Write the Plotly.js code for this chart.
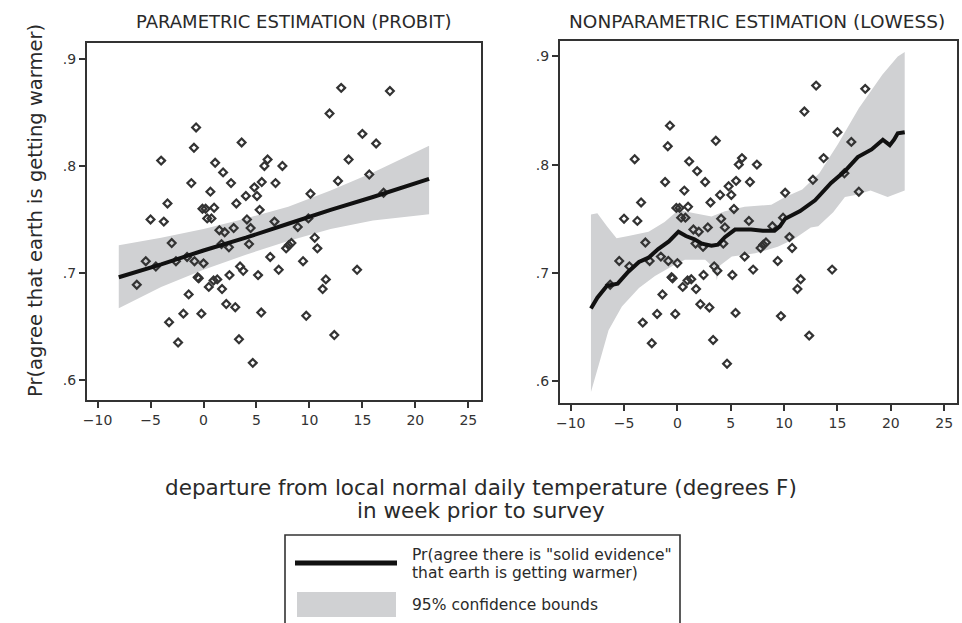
<!DOCTYPE html>
<html>
<head>
<meta charset="utf-8">
<script src="https://cdn.plot.ly/plotly-3.0.1.min.js"></script>
<style>html,body{margin:0;padding:0;background:#fff;}#chart{width:962px;height:623px;}</style>
</head>
<body>
<div id="chart"></div>
<script>
// ---- data ----
const ptsX = [13.0, 17.6, 11.9, -0.7, 3.6, -0.9, 15.0, 16.3, -4.0, 1.1, 6.05, 5.75, 7.45, 13.7, 1.85,
  -1.15, 2.6, 5.5, 6.8, 12.7, 15.65, 4.8, 0.65, 4.0, 5.05, 10.1, -3.4, 3.1, -5.0, -3.75,
  -0.1, 0.2, 1.0, 0.35, 0.75, 5.3, 4.1, 6.7, 8.9, 9.9, 1.5, 2.0, 2.85, 4.45, -3.0,
  1.7, 2.4, 4.3, -5.45, -4.5, -2.6, -1.55, -0.85, 0.0, 6.3, 7.8, 8.3, 8.05, 10.5, 10.75,
  9.4, 7.1, 3.45, 3.75, 2.45, 5.15, 14.5, -6.3, -0.55, -0.45, 0.95, 1.3, 0.5, 1.75, -1.4,
  11.55, 11.25, 2.15, 3.0, -1.9, -0.2, 5.45, 9.7, -3.25, -2.4, 3.35, 12.35, 4.65, 17.0];
const ptsY = [0.873, 0.870, 0.849, 0.836, 0.822, 0.817, 0.830, 0.821, 0.805, 0.803, 0.806, 0.800, 0.800, 0.806, 0.794,
  0.784, 0.784, 0.785, 0.784, 0.786, 0.792, 0.780, 0.776, 0.772, 0.772, 0.774, 0.765, 0.765, 0.750, 0.748,
  0.760, 0.760, 0.761, 0.751, 0.751, 0.759, 0.750, 0.748, 0.743, 0.751, 0.740, 0.738, 0.742, 0.742, 0.728,
  0.727, 0.724, 0.727, 0.711, 0.706, 0.711, 0.715, 0.711, 0.709, 0.715, 0.723, 0.728, 0.726, 0.733, 0.723,
  0.711, 0.703, 0.706, 0.702, 0.698, 0.698, 0.703, 0.689, 0.696, 0.695, 0.693, 0.694, 0.687, 0.685, 0.680,
  0.694, 0.685, 0.671, 0.668, 0.662, 0.662, 0.663, 0.660, 0.654, 0.635, 0.638, 0.642, 0.616, 0.775];

const probitX  = [-8, -4, 0, 4, 8, 12, 16, 21.3];
const probitFit = [0.696, 0.708, 0.721, 0.733, 0.746, 0.759, 0.771, 0.788];
const probitHi  = [0.726, 0.733, 0.741, 0.751, 0.762, 0.777, 0.794, 0.819];
const probitLo  = [0.667, 0.687, 0.703, 0.717, 0.730, 0.741, 0.749, 0.755];

const lowessX = [-8.1, -7.5, -6.6, -5.6, -4.6, -3.6, -2.7, -1.8, -0.8, 0.1, 0.8, 1.6, 2.3, 3.2, 3.8, 4.45, 5.4,
  6.9, 8.0, 9.1, 9.6, 10.1, 11.5, 12.9, 14.4, 15.7, 16.9, 18.2, 19.25, 19.9, 20.3, 20.65, 21.3];
const lowessFit = [0.667, 0.677, 0.688, 0.690, 0.701, 0.710, 0.714, 0.722, 0.729, 0.738, 0.734, 0.731, 0.727, 0.725, 0.726, 0.733, 0.740,
  0.740, 0.739, 0.739, 0.743, 0.750, 0.757, 0.767, 0.783, 0.794, 0.807, 0.814, 0.823, 0.818, 0.823, 0.829, 0.830];
const lowessHiX = [-8.1, -7.5, -6.6, -5.7, -4.6, -2.7, -1.2, 0.1, 1.6, 3.2, 4.45, 6.3, 8.8, 10.1, 11.7, 13.3, 15.05, 17.0, 18.2, 19.2, 20.65, 21.3];
const lowessHi  = [0.754, 0.755, 0.743, 0.732, 0.734, 0.738, 0.747, 0.758, 0.755, 0.752, 0.757, 0.761, 0.763, 0.770, 0.777, 0.792, 0.819, 0.852, 0.869, 0.883, 0.900, 0.904];
const lowessLoX = [-8.1, -7.4, -6.45, -5.2, -3.6, -2.1, -0.5, 0.7, 2.6, 3.5, 3.7, 3.9, 5.1, 7.3, 9.4, 10.9, 12.5, 13.2, 14.6, 15.7, 16.7, 18.1, 19.7, 21.3];
const lowessLo  = [0.590, 0.614, 0.647, 0.669, 0.686, 0.697, 0.706, 0.712, 0.712, 0.704, 0.693, 0.706, 0.715, 0.718, 0.724, 0.731, 0.742, 0.743, 0.756, 0.770, 0.772, 0.776, 0.770, 0.776];

const xTicks = [-10, -5, 0, 5, 10, 15, 20, 25];
const yTicks = [0.6, 0.7, 0.8, 0.9];
const yTickText = ['.6', '.7', '.8', '.9'];

const panelTitles = ['PARAMETRIC ESTIMATION (PROBIT)', 'NONPARAMETRIC ESTIMATION (LOWESS)'];
const yTitle = 'Pr(agree that earth is getting warmer)';
const xTitle1 = 'departure from local normal daily temperature (degrees F)';
const xTitle2 = 'in week prior to survey';
const legendLine = ['Pr(agree there is "solid evidence"', 'that earth is getting warmer)'];
const legendBand = '95% confidence bounds';

// ---- helpers ----
const W = 962, H = 623;
const fx = p => p / W;
const fy = p => 1 - p / H;
const FONT = 'DejaVu Sans, Verdana, sans-serif';
const BAND = 'rgb(208,209,211)';
const TXT = '#2a2a2a';

function poly(xu, yu, xl, yl) {
  return { x: xu.concat(xl.slice().reverse()), y: yu.concat(yl.slice().reverse()) };
}
const pb = poly(probitX, probitHi, probitX, probitLo);
const lb = poly(lowessHiX, lowessHi, lowessLoX, lowessLo);

const markerStyle = { symbol: 'diamond-open', size: 6, color: '#333', line: { width: 2.2, color: '#333' } };

const traces = [
  { x: pb.x, y: pb.y, type: 'scatter', mode: 'lines', fill: 'toself', fillcolor: BAND, line: { width: 0 }, xaxis: 'x', yaxis: 'y', hoverinfo: 'skip' },
  { x: ptsX, y: ptsY, type: 'scatter', mode: 'markers', marker: markerStyle, xaxis: 'x', yaxis: 'y' },
  { x: probitX, y: probitFit, type: 'scatter', mode: 'lines', line: { color: '#111', width: 4 }, xaxis: 'x', yaxis: 'y' },
  { x: lb.x, y: lb.y, type: 'scatter', mode: 'lines', fill: 'toself', fillcolor: BAND, line: { width: 0 }, xaxis: 'x2', yaxis: 'y2', hoverinfo: 'skip' },
  { x: ptsX, y: ptsY, type: 'scatter', mode: 'markers', marker: markerStyle, xaxis: 'x2', yaxis: 'y2' },
  { x: lowessX, y: lowessFit, type: 'scatter', mode: 'lines', line: { color: '#111', width: 4 }, xaxis: 'x2', yaxis: 'y2' }
];

function xa(domain, anchor) {
  return {
    domain: domain, anchor: anchor, range: [-11, 26.2], tickmode: 'array', tickvals: xTicks,
    showline: true, mirror: true, linecolor: '#333', linewidth: 2, ticks: 'outside', ticklen: 6,
    tickwidth: 2, tickcolor: '#333', showgrid: false, zeroline: false,
    tickfont: { family: FONT, size: 14, color: '#333' }, fixedrange: true
  };
}
function ya(domain, anchor, range) {
  return {
    domain: domain, anchor: anchor, range: range, tickmode: 'array', tickvals: yTicks, ticktext: yTickText,
    showline: true, mirror: true, linecolor: '#333', linewidth: 2, ticks: 'outside', ticklen: 6,
    tickwidth: 2, tickcolor: '#333', showgrid: false, zeroline: false,
    tickfont: { family: FONT, size: 14, color: '#333' }, fixedrange: true
  };
}

const annotations = [
  { text: panelTitles[0], x: fx(294), y: fy(22), xref: 'paper', yref: 'paper', showarrow: false, xanchor: 'center', yanchor: 'middle', font: { family: FONT, size: 18, color: TXT } },
  { text: panelTitles[1], x: fx(757), y: fy(22), xref: 'paper', yref: 'paper', showarrow: false, xanchor: 'center', yanchor: 'middle', font: { family: FONT, size: 18.5, color: TXT } },
  { text: yTitle, x: fx(35), y: fy(211), xref: 'paper', yref: 'paper', showarrow: false, textangle: -90, xanchor: 'center', yanchor: 'middle', font: { family: FONT, size: 19.5, color: TXT } },
  { text: xTitle1, x: fx(481), y: fy(487), xref: 'paper', yref: 'paper', showarrow: false, xanchor: 'center', yanchor: 'middle', font: { family: FONT, size: 21.5, color: TXT } },
  { text: xTitle2, x: fx(481), y: fy(510), xref: 'paper', yref: 'paper', showarrow: false, xanchor: 'center', yanchor: 'middle', font: { family: FONT, size: 21.5, color: TXT } },
  { text: legendLine[0], x: fx(410), y: fy(555), xref: 'paper', yref: 'paper', showarrow: false, xanchor: 'left', yanchor: 'middle', font: { family: FONT, size: 15.5, color: TXT } },
  { text: legendLine[1], x: fx(410), y: fy(573), xref: 'paper', yref: 'paper', showarrow: false, xanchor: 'left', yanchor: 'middle', font: { family: FONT, size: 15.5, color: TXT } },
  { text: legendBand, x: fx(410), y: fy(605), xref: 'paper', yref: 'paper', showarrow: false, xanchor: 'left', yanchor: 'middle', font: { family: FONT, size: 15.5, color: TXT } }
];

const shapes = [
  { type: 'rect', xref: 'paper', yref: 'paper', x0: fx(285), x1: fx(680), y0: fy(535), y1: fy(626), line: { color: '#333', width: 1.6 }, fillcolor: 'rgba(0,0,0,0)' },
  { type: 'line', xref: 'paper', yref: 'paper', x0: fx(295), x1: fx(397), y0: fy(563), y1: fy(563), line: { color: '#111', width: 5 } },
  { type: 'rect', xref: 'paper', yref: 'paper', x0: fx(297), x1: fx(396), y0: fy(592), y1: fy(617), line: { width: 0 }, fillcolor: BAND }
];

const layout = {
  width: W, height: H, margin: { l: 0, r: 0, t: 0, b: 0 },
  paper_bgcolor: '#fff', plot_bgcolor: '#fff', showlegend: false,
  xaxis: xa([fx(87), fx(481)], 'y'),
  yaxis: ya([fy(400), fy(42.7)], 'x', [0.5813, 0.9152]),
  xaxis2: xa([fx(560), fx(957)], 'y2'),
  yaxis2: ya([fy(402.7), fy(40.7)], 'x2', [0.580, 0.9145]),
  annotations: annotations, shapes: shapes,
  font: { family: FONT }
};

Plotly.newPlot('chart', traces, layout, { staticPlot: true, displayModeBar: false });
</script>
</body>
</html>
